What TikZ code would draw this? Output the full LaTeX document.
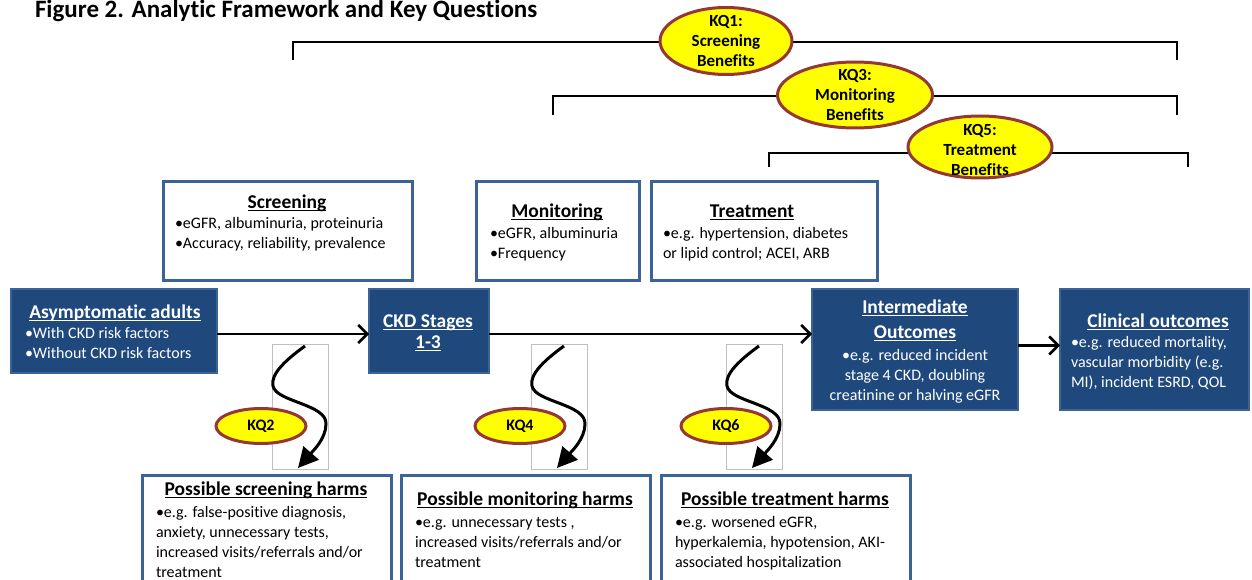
\documentclass[tikz,border=0pt]{standalone}
\usepackage{fontspec}
\setmainfont{Carlito}[Ligatures=NoCommon]
\usetikzlibrary{arrows.meta,positioning,shapes.geometric}
\definecolor{navy}{HTML}{1F497D}
\definecolor{rimblue}{HTML}{3C6395}
\definecolor{kqrim}{HTML}{953735}
\definecolor{kqfill}{HTML}{FFFF00}
\newsavebox\ulsave
\newcommand{\ulhead}[1]{\sbox\ulsave{#1}\rlap{\rule[-3.2pt]{\wd\ulsave}{1.4pt}}\usebox\ulsave}

\begin{document}
\begin{tikzpicture}[
  x=1pt, y=-1pt,
  every node/.style={inner sep=0pt, outer sep=0pt},
  body/.style={font=\fontsize{16}{20}\selectfont, align=left, anchor=base west},
  head/.style={font=\fontsize{19.5}{24}\selectfont\bfseries, align=center, anchor=base},
  wbox/.style={draw=rimblue, line width=3pt, fill=white, anchor=north west},
  bbox/.style={draw=rimblue, line width=2.5pt, fill=navy, anchor=north west},
  kq/.style={ellipse, draw=kqrim, line width=3pt, fill=kqfill},
  kqtext/.style={font=\fontsize{17}{20}\selectfont\bfseries, align=center},
  brace/.style={line width=2.5pt},
  flow/.style={line width=2.5pt, -{Straight Barb[length=9pt,width=18pt]}},
  wave/.style={line width=3pt, -{Triangle[length=20pt,width=20pt]}},
  pane/.style={draw=black!25, line width=0.8pt, minimum width=56pt, minimum height=125pt, anchor=north west},
]
\useasboundingbox (0,0) rectangle (1252,580);
\clip (0,0) rectangle (1252,580);

\node[font=\fontsize{25}{29}\selectfont\bfseries, anchor=base west] (title) at (35,18) {Figure 2. Analytic Framework and Key Questions};

% key question brackets
\draw[brace] (293,60) -- (293,42) -- (1177,42) -- (1177,60);
\draw[brace] (553,115) -- (553,96) -- (1177,96) -- (1177,115);
\draw[brace] (769,167) -- (769,153) -- (1188,153) -- (1188,167);
\node[kq, minimum width=132pt, minimum height=67pt] (kq1) at (726,41) {};
\node[kqtext] (kq1t) at (kq1) {KQ1:\\Screening\\Benefits};
\node[kq, minimum width=155pt, minimum height=66pt] (kq3) at (855,95) {};
\node[kqtext] (kq3t) at (kq3) {KQ3:\\Monitoring\\Benefits};
\node[kq, minimum width=144pt, minimum height=62pt] (kq5) at (980,147) {};
\node[kqtext] (kq5t) at ([yshift=-3pt]kq5.center) {KQ5:\\Treatment\\Benefits};

% interventions
\node[wbox, minimum width=249pt, minimum height=98pt] (scr) at (163,182) {};
\node[head] (scrh) at (287,208) {\ulhead{Screening}};
\node[body] (scrb) at (175,248) {•eGFR, albuminuria, proteinuria\\•Accuracy, reliability, prevalence};
\node[wbox, minimum width=163pt, minimum height=98pt] (mon) at (476,182) {};
\node[head] (monh) at (557,217) {\ulhead{Monitoring}};
\node[body] (monb) at (490,258) {•eGFR, albuminuria\\•Frequency};
\node[wbox, minimum width=226pt, minimum height=98pt] (trt) at (651,182) {};
\node[head] (trth) at (752,217) {\ulhead{Treatment}};
\node[body] (trtb) at (663,258) {•e.g. hypertension, diabetes\\or lipid control; ACEI, ARB};

% main chain
\node[bbox, minimum width=206pt, minimum height=84pt] (asym) at (11,289) {};
\node[head, text=white] (asymh) at (115,318) {\ulhead{Asymptomatic adults}};
\node[body, text=white] (asymb) at (25,358) {•With CKD risk factors\\•Without CKD risk factors};
\node[bbox, minimum width=120pt, minimum height=84pt] (ckd) at (369,289) {};
\node[head, text=white, font=\fontsize{19.5}{21}\selectfont\bfseries] (ckdh) at (428,348) {\ulhead{CKD Stages}\\\ulhead{1-3}};
\node[bbox, minimum width=206pt, minimum height=121pt] (inter) at (812,289) {};
\node[head, text=white, font=\fontsize{19.5}{25}\selectfont\bfseries] (interh) at (915,338) {\ulhead{Intermediate}\\\ulhead{Outcomes}};
\node[body, text=white, align=center, anchor=base] (interb) at (915,400) {•e.g. reduced incident\\stage 4 CKD, doubling\\creatinine or halving eGFR};
\node[bbox, minimum width=189pt, minimum height=121pt] (clin) at (1060,289) {};
\node[head, text=white] (clinh) at (1158,327) {\ulhead{Clinical outcomes}};
\node[body, text=white] (clinb) at (1071,387) {•e.g. reduced mortality,\\vascular morbidity (e.g.\\MI), incident ESRD, QOL};

\draw[flow] ([yshift=-3pt]asym.east) -- ([yshift=-3pt]ckd.west);
\draw[flow] ([yshift=-3pt]ckd.east) -- ([yshift=-3pt]ckd.east -| inter.west);
\draw[flow] ([yshift=4pt]inter.east) -- ([yshift=4pt]inter.east -| clin.west);

% harms
\foreach \k/\px/\ex in {2/272/261, 4/531/520, 6/726/726} {
  \begin{scope}[shift={(\px,344)}]
    \node[pane] (pane\k) at (0,0) {};
    \draw[wave] (33,2) .. controls (15,15) and (-2,30) .. (1,42)
      .. controls (4,58) and (55,60) .. (54,80)
      .. controls (54,95) and (40,108) .. (26,124);
  \end{scope}
  \node[kq, minimum width=90pt, minimum height=35pt, font=\fontsize{16}{20}\selectfont\bfseries] (kq\k) at (\ex,426) {KQ\k};
}

\node[wbox, minimum width=249pt, minimum height=120pt] (hscr) at (142,475) {};
\node[head] (hscrh) at (266,495) {\ulhead{Possible screening harms}};
\node[body] (hscrb) at (156,577) {•e.g. false-positive diagnosis,\\anxiety, unnecessary tests,\\increased visits/referrals and/or\\treatment};
\node[wbox, minimum width=249pt, minimum height=120pt] (hmon) at (401,475) {};
\node[head] (hmonh) at (525,505) {\ulhead{Possible monitoring harms}};
\node[body] (hmonb) at (415,567) {•e.g. unnecessary tests ,\\increased visits/referrals and/or\\treatment};
\node[wbox, minimum width=249pt, minimum height=120pt] (htrt) at (661,475) {};
\node[head] (htrth) at (785,505) {\ulhead{Possible treatment harms}};
\node[body] (htrtb) at (675,567) {•e.g. worsened eGFR,\\hyperkalemia, hypotension, AKI-\\associated hospitalization};
\end{tikzpicture}
\end{document}
